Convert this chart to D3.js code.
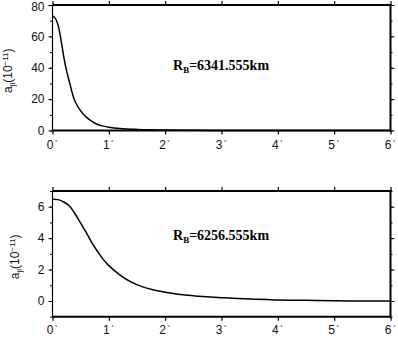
<!DOCTYPE html>
<html><head><meta charset="utf-8">
<script src="https://cdn.jsdelivr.net/npm/d3@7"></script>
<style>html,body{margin:0;padding:0;background:#fff}svg{display:block}</style>
</head><body><svg id="c" width="398" height="338"></svg>
<script>
const xTicks = [0,1,2,3,4,5,6];
const topDeg = [0,0.05,0.1,0.15,0.2,0.25,0.3,0.35,0.4,0.5,0.6,0.7,0.8,0.9,1.0,1.2,1.5,1.75,2,2.5,3,3.5,4,5,6];
const topVal = [73,71.5,67,58,47,38,31,24,18.5,12.5,8.5,5.8,3.8,2.8,2.1,1.3,0.7,0.4,0.25,0.1,0.04,0.01,0,0,0];
const botDeg = [0,0.1,0.2,0.3,0.4,0.5,0.6,0.7,0.8,0.9,1.0,1.2,1.4,1.6,1.8,2.0,2.2,2.4,2.6,2.8,3.0,3.2,3.5,3.8,4.0,4.5,5.0,5.2,6];
const botVal = [6.48,6.45,6.3,6.05,5.55,4.95,4.35,3.7,3.15,2.65,2.25,1.65,1.2,0.9,0.7,0.56,0.45,0.36,0.3,0.25,0.21,0.18,0.13,0.09,0.06,0.04,0.02,0,0];
const topYMajor = [0,20,40,60,80];
const topYMinor = [0,10,20,30,40,50,60,70,80];
const botYMajor = [0,2,4,6];
const botYMinor = [-1,0,1,2,3,4,5,6,7];
const labelTop = "6341.555km";
const labelBot = "6256.555km";

const svg = d3.select("#c");
const X0 = 52.5, X1 = 390.5;

function panel(cfg){
  const x = d3.scaleLinear().domain([0,6]).range([X0,X1]);
  const y = d3.scaleLinear().domain(cfg.ydom).range([cfg.yb, cfg.yt]);
  const g = svg.append("g");
  const font = "'Liberation Sans', Arial, sans-serif";
  // bottom axis
  const gb = g.append("g").attr("transform",`translate(0,${cfg.yb})`)
    .call(d3.axisBottom(x).tickValues(xTicks).tickSize(4).tickFormat(""));
  gb.select(".domain").remove();
  gb.selectAll("line").attr("stroke","#000").attr("stroke-width",1.2);
  gb.selectAll(".tick").append("text").attr("y",cfg.xlabY).attr("x",-1)
    .attr("text-anchor","middle").attr("fill","#111")
    .style("font-family",font).style("font-size","12px")
    .each(function(d){
      const t = d3.select(this);
      t.append("tspan").text(d);
      t.append("tspan").attr("dx",1.5).attr("dy",-5).style("font-size","6px").text("°");
    });
  // top axis ticks
  const gt = g.append("g").attr("transform",`translate(0,${cfg.yt})`)
    .call(d3.axisTop(x).tickValues(xTicks).tickSize(4).tickFormat(""));
  gt.select(".domain").remove();
  gt.selectAll("line").attr("stroke","#000").attr("stroke-width",1.2);
  // left axis
  const gl = g.append("g").attr("transform",`translate(${X0},0)`)
    .call(d3.axisLeft(y).tickValues(cfg.ymaj).tickSize(4).tickPadding(4));
  gl.select(".domain").remove();
  gl.selectAll("line").attr("stroke","#000");
  gl.selectAll("text").attr("fill","#111").style("font-family",font).style("font-size","12px")
    .attr("dy", d => y(d) < 8 ? "0.45em" : "0.32em");
  const glm = g.append("g").attr("transform",`translate(${X0},0)`)
    .call(d3.axisLeft(y).tickValues(cfg.ymin).tickSize(2.5).tickFormat(""));
  glm.select(".domain").remove();
  glm.selectAll("line").attr("stroke","#000");
  // right axis
  const gr = g.append("g").attr("transform",`translate(${X1},0)`)
    .call(d3.axisRight(y).tickValues(cfg.ymaj).tickSize(4).tickFormat(""));
  gr.select(".domain").remove();
  gr.selectAll("line").attr("stroke","#000");
  const grm = g.append("g").attr("transform",`translate(${X1},0)`)
    .call(d3.axisRight(y).tickValues(cfg.ymin).tickSize(2).tickFormat(""));
  grm.select(".domain").remove();
  grm.selectAll("line").attr("stroke","#000");
  // curve
  const line = d3.line().x(d=>x(d[0])).y(d=>y(d[1])).curve(d3.curveCatmullRom.alpha(0.5));
  g.append("path").datum(cfg.deg.map((d,i)=>[d,cfg.val[i]]))
    .attr("d",line).attr("fill","none").attr("stroke","#000").attr("stroke-width",1.5);
  // frame
  g.append("line").attr("x1",X0).attr("x2",X0).attr("y1",cfg.yt).attr("y2",cfg.yb).attr("stroke","#000").attr("stroke-width",1.2);
  g.append("line").attr("x1",X1).attr("x2",X1).attr("y1",cfg.yt-1).attr("y2",cfg.yb+1).attr("stroke","#000").attr("stroke-width",2);
  g.append("line").attr("x1",X0).attr("x2",X1).attr("y1",cfg.yt).attr("y2",cfg.yt).attr("stroke","#000").attr("stroke-width",2);
  g.append("line").attr("x1",X0).attr("x2",X1).attr("y1",cfg.yb).attr("y2",cfg.yb).attr("stroke","#000").attr("stroke-width",2);
  // annotation
  const ann = g.append("text").attr("x",173).attr("y",cfg.annY)
    .style("font-family","'Liberation Serif','Times New Roman',serif").style("font-weight","bold").style("font-size","14px").attr("fill","#000");
  ann.append("tspan").text("R");
  ann.append("tspan").attr("dy",3).style("font-size","9px").text("B");
  ann.append("tspan").attr("dy",-3).text("=" + cfg.label);
  // y label
  const yl = g.append("text").attr("transform",`translate(${cfg.ylabX},${(cfg.yt+cfg.yb)/2 + 3}) rotate(-90)`)
    .attr("text-anchor","middle").attr("fill","#111")
    .style("font-family",font).style("font-size","12px");
  yl.append("tspan").text("a");
  yl.append("tspan").attr("dy",3).style("font-size","8px").text("jl");
  yl.append("tspan").attr("dy",-3).text("(10");
  yl.append("tspan").attr("dy",-4).style("font-size","8px").text("−11");
  yl.append("tspan").attr("dy",4).text(")");
}

panel({ydom:[0,80], yt:5, yb:130.5, ymaj:topYMajor, ymin:topYMinor, deg:topDeg, val:topVal, label:labelTop, annY:70, ylabX:12, xlabY:18});
panel({ydom:[-1,7], yt:191, yb:316.7, ymaj:botYMajor, ymin:botYMinor, deg:botDeg, val:botVal, label:labelBot, annY:240, ylabX:19, xlabY:17});
</script></body></html>
